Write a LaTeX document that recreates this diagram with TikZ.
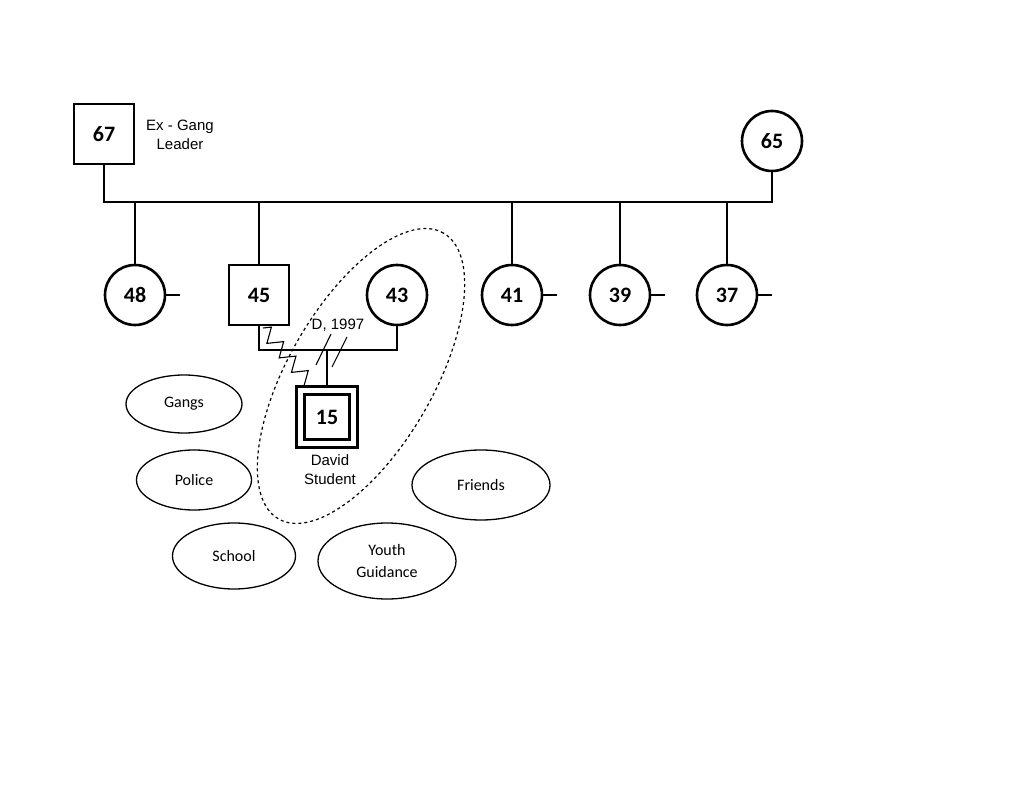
\documentclass[tikz,border=0pt]{standalone}
\usepackage{fontspec}
\setmainfont{Carlito}
\newfontfamily\arialfont{Liberation Sans}
\usetikzlibrary{shapes.geometric, decorations.pathmorphing}

\begin{document}
\begin{tikzpicture}[x=1pt, y=-1pt,
        male/.style={rectangle, draw, line width=2.6pt, minimum size=60pt, inner sep=0pt, font=\fontsize{22}{26}\selectfont\bfseries},
        female/.style={circle, draw, line width=2.6pt, minimum size=60pt, inner sep=0pt, font=\fontsize{22}{26}\selectfont\bfseries},
        system/.style={ellipse, draw, line width=1.3pt, inner sep=0pt, align=center, font=\fontsize{16}{22}\selectfont},
        note/.style={align=center, font=\arialfont\fontsize{15}{19}\selectfont},
        link/.style={draw, line width=1.1pt}
        ]
        \useasboundingbox (0,0) rectangle (1023,791);

        % Nodes
        \node (gf) [male] at (104,134) {67};
        \node [note] at (180,135) {Ex - Gang\\Leader};
        \node (gm) [female] at (772,141) {65};
        \node (c48) [female] at (135,295) {48};
        \node (c45) [male] at (259,295) {45};
        \node (w43) [female] at (397,295) {43};
        \node (c41) [female] at (512,295) {41};
        \node (c39) [female] at (620,295) {39};
        \node (c37) [female] at (727,295) {37};
        \node (david) [male, minimum size=61pt] at (327,417) {};
        \node (davidin) [male, minimum size=45pt] at (327,417) {15};
        \node [note] at (330,470) {David\\Student};
        \node [note] at (338,325) {D, 1997};

        \node (gangs) [system, minimum width=116pt, minimum height=58pt] at (184,404) {Gangs};
        \node (police) [system, minimum width=115pt, minimum height=60pt] at (194,480) {Police};
        \node (school) [system, minimum width=123pt, minimum height=66pt] at (234,556) {School};
        \node (youth) [system, minimum width=138pt, minimum height=76pt] at (387,561) {Youth\\Guidance};
        \node (friends) [system, minimum width=138pt, minimum height=70pt] at (481,485) {Friends};

        \node (home) [ellipse, draw, dashed, line width=1.2pt, minimum width=330pt, minimum height=145pt, rotate=60] at (361,376) {};

        \coordinate (top) at (0,202);
        \coordinate (wed) at (0,350);

        % Lines
        \draw [link] (gf) -- (gf |- top) -- (gm |- top) -- (gm);
        \foreach \kid in {c48, c45, c41, c39, c37}
            \draw [link] (\kid |- top) -- (\kid);
        \foreach \kid in {c48, c41, c39, c37}
            \draw [link] (\kid.east) -- ++(14,0);
        \draw [link] (c45) -- (c45 |- wed) -- (w43 |- wed) -- (w43);
        \draw [link] (david |- wed) -- (david);
        \draw [line width=1.1pt] (331,334) -- (316,365) (347,337) -- (332,367);
        \draw [line width=1.1pt, decorate, decoration={zigzag, segment length=19pt, amplitude=7pt}]
            (263,328) -- (313,387);

    \end{tikzpicture}
\end{document}
